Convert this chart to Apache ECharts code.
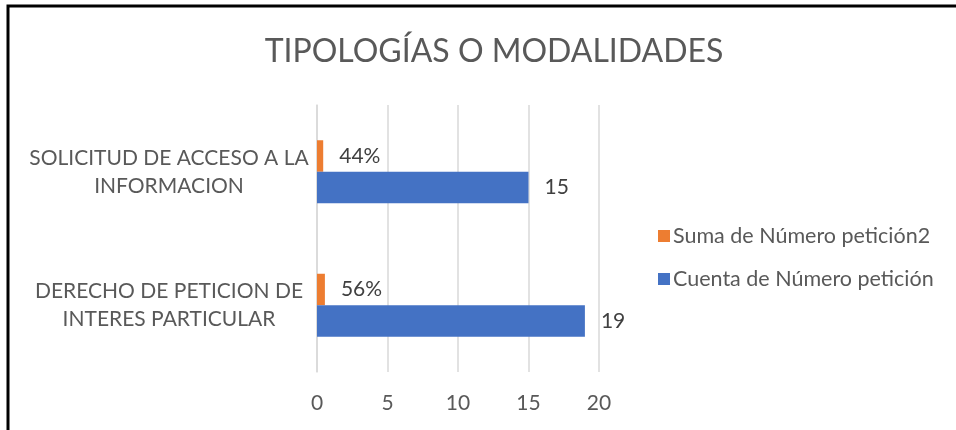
<!DOCTYPE html>
<html>
<head>
<meta charset="utf-8">
<script src="https://cdn.jsdelivr.net/npm/echarts@6/dist/echarts.min.js"></script>
<style>
  html, body { margin: 0; padding: 0; background: #fff; }
  #chart { width: 956px; height: 430px; }
</style>
</head>
<body>
<div id="chart"></div>
<script>
// categories bottom -> top (category y axis starts at the bottom)
const categories = ['DERECHO DE PETICION DE\nINTERES PARTICULAR', 'SOLICITUD DE ACCESO A LA\nINFORMACION']
const cuentaValues = [19, 15]
const sumaValues = [0.56, 0.44]
const xTicks = [0, 5, 10, 15, 20]

const FONT = 'Lato'
const chart = echarts.init(document.getElementById('chart'))

const option = {
  backgroundColor: '#fff',
  textStyle: { fontFamily: FONT },
  title: {
    text: 'TIPOLOGÍAS O MODALIDADES',
    left: 489,
    textAlign: 'center',
    top: 31,
    textStyle: { fontFamily: FONT, fontSize: 32, fontWeight: 'normal', color: '#595959' }
  },
  graphic: [{
    type: 'polyline',
    shape: { points: [[8, 430], [8, 6], [956, 6]] },
    style: { stroke: '#000', lineWidth: 3, fill: null }
  }],
  legend: {
    orient: 'vertical',
    left: 653,
    top: 220,
    itemWidth: 12,
    itemHeight: 12,
    itemGap: 21,
    icon: 'rect',
    data: ['Suma de Número petición2', 'Cuenta de Número petición'],
    textStyle: { fontFamily: FONT, fontSize: 21.5, color: '#595959', padding: [0, 0, 0, -2] }
  },
  grid: { left: 317, right: 357, top: 105, bottom: 58 },
  xAxis: {
    type: 'value',
    min: xTicks[0],
    max: xTicks[xTicks.length - 1],
    interval: 5,
    axisLine: { show: false },
    axisTick: { show: false },
    axisLabel: { fontFamily: FONT, fontSize: 21, color: '#595959', margin: 21 },
    splitLine: { lineStyle: { color: '#d9d9d9', width: 1.5 } }
  },
  yAxis: {
    type: 'category',
    data: categories,
    axisLine: { lineStyle: { color: '#d9d9d9', width: 1.5 } },
    axisTick: { show: false },
    axisLabel: {
      fontFamily: FONT, fontSize: 21, color: '#595959',
      align: 'center', margin: 148, lineHeight: 28
    }
  },
  series: [
    {
      name: 'Suma de Número petición2',
      type: 'bar',
      data: sumaValues,
      barWidth: 31.5,
      barGap: '0%',
      itemStyle: { color: '#ed7d31' },
      label: {
        show: true, position: 'right', distance: 16, fontFamily: FONT, fontSize: 21, color: '#404040',
        formatter: p => Math.round(p.value * 100) + '%'
      }
    },
    {
      name: 'Cuenta de Número petición',
      type: 'bar',
      data: cuentaValues,
      barWidth: 31.5,
      barGap: '0%',
      itemStyle: { color: '#4472c4' },
      label: { show: true, position: 'right', distance: 16, fontFamily: FONT, fontSize: 21, color: '#404040' }
    }
  ]
}

chart.setOption(option)
</script>
</body>
</html>
